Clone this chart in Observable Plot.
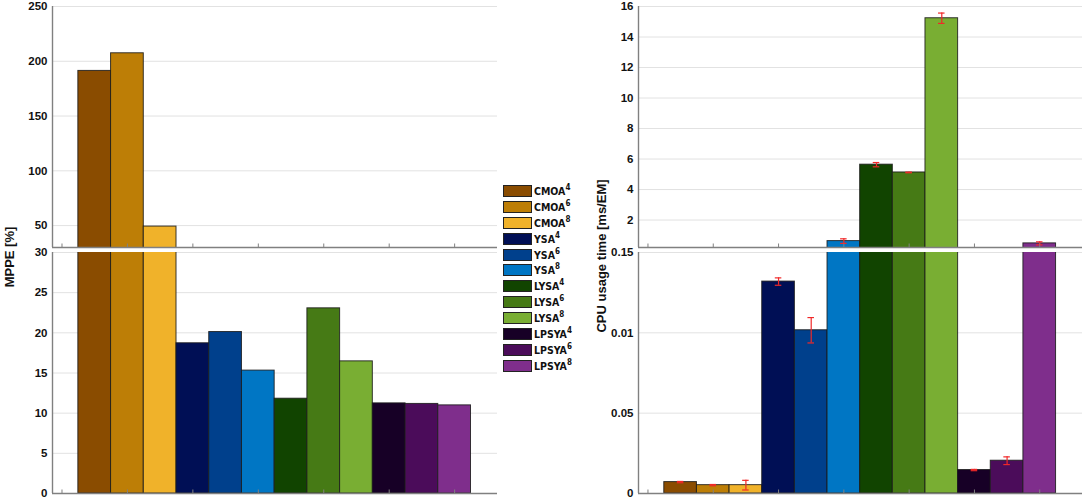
<!DOCTYPE html>
<html>
<head>
<meta charset="utf-8">
<script src="https://cdn.jsdelivr.net/npm/d3@7"></script>
<script src="https://cdn.jsdelivr.net/npm/@observablehq/plot@0.6"></script>
<style>
  body { margin: 0; background: #fff; font-family: "Liberation Sans", Arial, sans-serif; }
  #wrap { position: relative; width: 1084px; height: 500px; overflow: hidden; background: #fff; }
  .panel { position: absolute; }
  .ylab { position: absolute; font-weight: bold; font-size: 13px; white-space: nowrap; transform: translate(-50%, -50%) rotate(-90deg); color: #111; }
  #legend { position: absolute; left: 503px; top: 183px; font-family: "Liberation Sans Narrow", "DejaVu Sans Condensed", "Liberation Sans", sans-serif; font-weight: bold; font-size: 10.5px; color: #111; }
  .row { display: flex; align-items: center; height: 15.9px; }
  .sw { width: 27px; height: 10px; border: 1px solid #222; margin-right: 2px; box-sizing: content-box; }
  sup { font-size: 8px; vertical-align: 5px; line-height: 0; }
</style>
</head>
<body>
<div id="wrap">
  <div class="ylab" style="left:8.5px; top:257px;">MPPE [%]</div>
  <div class="ylab" style="left:601px; top:256px;">CPU usage time [ms/EM]</div>
  <div id="legend"></div>
</div>
<script>
// ---- data ----
const methodBase = ["CMOA", "CMOA", "CMOA", "YSA", "YSA", "YSA", "LYSA", "LYSA", "LYSA", "LPSYA", "LPSYA", "LPSYA"];
const methodOrder = [4, 6, 8, 4, 6, 8, 4, 6, 8, 4, 6, 8];
const colors = ["#8a4c00", "#bd7e06", "#f0b22a", "#000f55", "#00408c", "#0076c4", "#114400", "#467a15", "#79ae33", "#170026", "#4b0c5a", "#7f2e8c"];
const mppe = [191.2, 207.3, 49.1, 18.7, 20.1, 15.3, 11.8, 23.05, 16.45, 11.22, 11.15, 10.97];
const cpu = [0.0071, 0.0052, 0.0052, 0.1319, 0.1016, 0.62, 5.63, 5.12, 15.23, 0.0146, 0.0204, 0.47];
const cpuErr = [0.0004, 0.0004, 0.003, 0.0023, 0.0079, 0.15, 0.14, 0.02, 0.34, 0.0004, 0.0024, 0.1];

const mppeTopTicks = [50, 100, 150, 200, 250];
const mppeBotTicks = [0, 5, 10, 15, 20, 25, 30];
const cpuTopTicks = [2, 4, 6, 8, 10, 12, 14, 16];
const cpuBotTicks = [0, 0.05, 0.10, 0.15];
const cpuBotTickLabels = ["0", "0.05", "0.01", "0.15"];
const xTicks = [-1, 1, 3, 5, 7, 9, 11];

const mppeData = mppe.map((v, i) => ({i, v, c: colors[i]}));
const cpuData = cpu.map((v, i) => ({i, v, e: cpuErr[i], c: colors[i]}));

const xDomain = [-1.29, 12.31];
const gridColor = "#e2e2e2";
const axisColor = "#808080";

function panel({data, yDomain, ticks, tickFormat, width, height, mt, mb, ml, mr, errors}) {
  const ph = height - mt - mb;
  const tickLen = (yDomain[1] - yDomain[0]) * 3.5 / ph;
  const marks = [
    Plot.ruleY(ticks.filter(t => t > yDomain[0]), {y: d => d, stroke: gridColor, strokeWidth: 1}),
    Plot.rectY(data, {x1: d => d.i - 0.5, x2: d => d.i + 0.5, y1: () => 0, y2: "v", fill: "c", stroke: "#1a1a1a", strokeWidth: 1, strokeOpacity: 0.85, clip: true}),
  ];
  if (errors) {
    marks.push(
      Plot.ruleX(data, {x: "i", y1: d => d.v - d.e, y2: d => d.v + d.e, stroke: "#f02828", strokeWidth: 1.2, clip: true}),
      Plot.ruleY(data, {y: d => d.v + d.e, x1: d => d.i - 0.1, x2: d => d.i + 0.1, stroke: "#f02828", strokeWidth: 1.2, clip: true}),
      Plot.ruleY(data, {y: d => d.v - d.e, x1: d => d.i - 0.1, x2: d => d.i + 0.1, stroke: "#f02828", strokeWidth: 1.2, clip: true})
    );
  }
  marks.push(
    Plot.ruleX(xTicks, {x: d => d, y1: () => yDomain[0], y2: () => yDomain[0] + tickLen, stroke: axisColor, strokeWidth: 1}),
    Plot.ruleX([xDomain[0]], {stroke: axisColor, strokeWidth: 1.4}),
    Plot.ruleY([yDomain[0]], {stroke: axisColor, strokeWidth: 1.4}),
    Plot.axisY({ticks, tickFormat, tickSize: 0, tickPadding: 5, fontSize: 11.5, fontWeight: "bold", fill: "#111", label: null})
  );
  return Plot.plot({
    width, height,
    marginTop: mt, marginBottom: mb, marginLeft: ml, marginRight: mr,
    x: {domain: xDomain, axis: null},
    y: {domain: yDomain, axis: null},
    style: {background: "transparent", fontFamily: "'Liberation Sans', Arial, sans-serif", overflow: "visible"},
    marks
  });
}

const wrap = document.getElementById("wrap");
function place(svg, left, top) {
  const d = document.createElement("div");
  d.className = "panel";
  d.style.left = left + "px";
  d.style.top = top + "px";
  d.appendChild(svg);
  wrap.appendChild(d);
}

// left: MPPE
place(panel({data: mppeData, yDomain: [30, 250], ticks: mppeTopTicks, tickFormat: d => String(d),
  width: 500, height: 249, mt: 6, mb: 2, ml: 52, mr: 3}), 0, 0);
place(panel({data: mppeData, yDomain: [0, 30], ticks: mppeBotTicks, tickFormat: d => String(d),
  width: 500, height: 251, mt: 3, mb: 7, ml: 52, mr: 3}), 0, 249);

// right: CPU
place(panel({data: cpuData, yDomain: [0.2, 16], ticks: cpuTopTicks, tickFormat: d => String(d),
  width: 494, height: 249, mt: 6, mb: 2, ml: 48, mr: 2, errors: true}), 590, 0);
place(panel({data: cpuData, yDomain: [0, 0.15], ticks: cpuBotTicks, tickFormat: (d) => cpuBotTickLabels[cpuBotTicks.findIndex(t => Math.abs(t - d) < 1e-9)],
  width: 494, height: 251, mt: 3, mb: 7, ml: 48, mr: 2, errors: true}), 590, 249);

// legend
const legend = document.getElementById("legend");
methodBase.forEach((b, i) => {
  const row = document.createElement("div");
  row.className = "row";
  row.innerHTML = `<div class="sw" style="background:${colors[i]}"></div><span>${b}<sup>${methodOrder[i]}</sup></span>`;
  legend.appendChild(row);
});
</script>
</body>
</html>
